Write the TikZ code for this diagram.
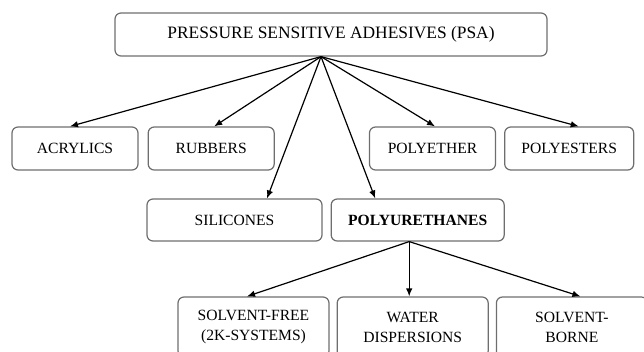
\documentclass[tikz,border=0pt]{standalone}
\usepackage{fontspec}
\setmainfont{Liberation Serif}
\usetikzlibrary{arrows.meta, positioning}
\usepackage{xcolor}
\definecolor{BoxGray}{RGB}{110,110,110}

\begin{document}
\begin{tikzpicture}[
          node distance=8pt,
          family/.style={rectangle, draw=BoxGray, line width=1.2pt, rounded corners=6pt, minimum width=126pt, minimum height=43pt, inner sep=2pt, text centered, font=\fontsize{15.6}{20}\selectfont},
          topbox/.style={family, minimum width=432pt, font=\fontsize{17.4}{21}\selectfont},
          subtype/.style={family, minimum width=151pt, minimum height=60pt, align=center},
          arrow/.style={-{Latex[length=8pt,width=6.5pt]}, line width=1.2pt, black}
        ]
          \useasboundingbox (0,0) rectangle (644pt,-351pt);

          \node (psa) [topbox] at (331pt,-34.5pt) {PRESSURE SENSITIVE ADHESIVES (PSA)};

          \node (acrylics) [family] at (75pt,-148.5pt) {ACRYLICS};
          \node (rubbers) [family, right=9pt of acrylics] {RUBBERS};
          \node (polyether) [family] at (432.5pt,-148.5pt) {POLYETHER};
          \node (polyesters) [family, minimum width=129pt, right=8pt of polyether] {POLYESTERS};

          \node (silicones) [family, minimum width=175pt, minimum height=42pt] at (234.5pt,-220pt) {SILICONES};
          \node (pu) [family, minimum width=173pt, minimum height=42pt, right=8pt of silicones, font=\fontsize{15.6}{20}\selectfont\bfseries] {POLYURETHANES};

          \node (solventfree) [subtype] at (253.5pt,-327pt) {SOLVENT-FREE\\(2K-SYSTEMS)};
          \node (water) [subtype, right=7pt of solventfree] {WATER\\DISPERSIONS};
          \node (solventborne) [subtype, right=7pt of water] {SOLVENT-\\BORNE};

          \coordinate (hub) at ([xshift=-10pt]psa.south);
          \draw [arrow] (hub) -- ([xshift=-5pt]acrylics.north);
          \draw [arrow] (hub) -- ([xshift=3pt]rubbers.north);
          \draw [arrow] (hub) -- ([xshift=32.5pt]silicones.north);
          \draw [arrow] (hub) -- ([xshift=-42.5pt]pu.north);
          \draw [arrow] (hub) -- ([xshift=2.5pt]polyether.north);
          \draw [arrow] (hub) -- ([xshift=9.5pt]polyesters.north);

          \coordinate (pubase) at ([xshift=-8.5pt]pu.south);
          \draw [arrow] (pubase) -- ([xshift=-6.5pt]solventfree.north);
          \draw [arrow] (pubase) -- ([xshift=-3.5pt]water.north);
          \draw [arrow] (pubase) -- ([xshift=8.5pt]solventborne.north);
        \end{tikzpicture}
\end{document}
